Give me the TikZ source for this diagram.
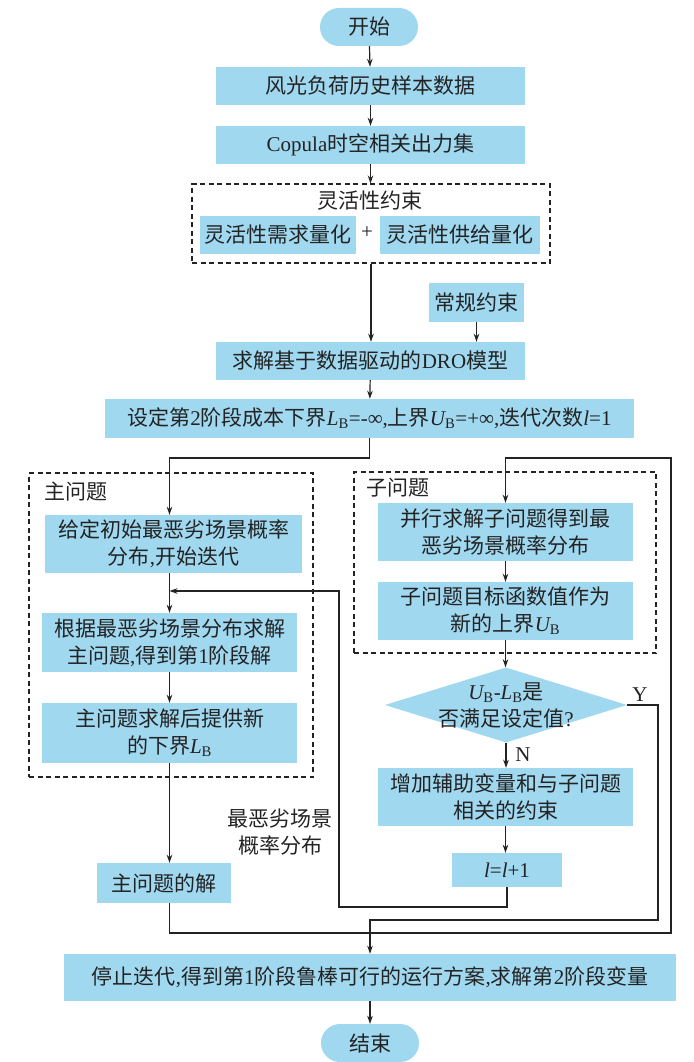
\documentclass[tikz,border=0pt]{standalone}
\usepackage{fontspec}
\setmainfont{Noto Sans CJK SC}
\newfontfamily\lat{Liberation Serif}
\usetikzlibrary{arrows.meta,shapes.geometric}
\definecolor{boxblue}{RGB}{160,216,240}
\definecolor{ink}{RGB}{35,35,35}
\newcommand\ital[1]{{\lat\itshape #1}}
\newcommand\sbB{\textsubscript{\lat B}}
\newcommand\Lt[1]{{\lat #1}}
\begin{document}
\begin{tikzpicture}[x=1pt,y=-1pt,
  every node/.style={font=\fontsize{21}{27}\selectfont, text=ink},
  box/.style={fill=boxblue, inner sep=0pt, align=center},
  arr/.style={draw=ink, line width=1.2pt, -{Stealth[length=8pt,width=5.5pt]}},
  ln/.style={draw=ink, line width=1.2pt},
  dbox/.style={draw=ink, line width=1.1pt, dash pattern=on 5pt off 3.5pt, inner sep=0pt},
]
\useasboundingbox[fill=white] (0,0) rectangle (693,1062);

% dashed group frames
\node[dbox, minimum width=358pt, minimum height=79pt] (flex) at (371,223.5) {};
\node[dbox, minimum width=284pt, minimum height=304pt] (mainfr) at (171,625) {};
\node[dbox, minimum width=302pt, minimum height=181pt] (subfr) at (505,562.5) {};

% top column
\node[box, rounded corners=19pt, minimum width=98pt, minimum height=38pt] (start) at (369,27) {开始};
\node[box, minimum width=309pt, minimum height=38pt] (b1) at (370.5,86) {风光负荷历史样本数据};
\node[box, minimum width=309pt, minimum height=38pt] (b2) at (370.5,145) {\Lt{Copula}时空相关出力集};
\node (flextitle) at (370,201) {灵活性约束};
\node[box, minimum width=156pt, minimum height=38pt] (fl) at (278,235) {灵活性需求量化};
\node[box, minimum width=160pt, minimum height=38pt] (fr) at (460,235) {灵活性供给量化};
\node (plus) at (367,233) {\Lt{+}};
\node[box, minimum width=95pt, minimum height=39pt] (reg) at (476.5,302.5) {常规约束};
\node[box, minimum width=309pt, minimum height=38pt] (dro) at (370.5,361) {求解基于数据驱动的\Lt{DRO}模型};
\node[box, minimum width=529pt, minimum height=39pt] (set) at (369.5,418.5)
  {设定第\Lt{2}阶段成本下界\ital{L}\sbB\Lt{=-∞,}上界\ital{U}\sbB\Lt{=+∞,}迭代次数\ital{l}\Lt{=1}};

% master problem
\node[anchor=west] (mainlab) at (41,492) {主问题};
\node[box, minimum width=257pt, minimum height=58pt] (m1) at (173.5,544) {给定初始最恶劣场景概率\\分布\Lt{,}开始迭代};
\node[box, minimum width=255pt, minimum height=59pt] (m2) at (169.5,642.5) {根据最恶劣场景分布求解\\主问题\Lt{,}得到第\Lt{1}阶段解};
\node[box, minimum width=255pt, minimum height=60pt] (m3) at (169.5,733) {主问题求解后提供新\\的下界\ital{L}\sbB};
\node[box, minimum width=134pt, minimum height=40pt] (msol) at (164,883) {主问题的解};
\node[align=center] (wlab) at (280,832) {最恶劣场景\\概率分布};

% sub problem
\node[anchor=west] (sublab) at (363,488) {子问题};
\node[box, minimum width=255pt, minimum height=58pt] (s1) at (505.5,532) {并行求解子问题得到最\\恶劣场景概率分布};
\node[box, minimum width=255pt, minimum height=58pt] (s2) at (505.5,611) {子问题目标函数值作为\\新的上界\ital{U}\sbB};
\node[diamond, fill=boxblue, inner sep=0pt, minimum width=242pt, minimum height=75pt] (dia) at (506,705) {};
\node[align=center] (diat) at (506,705) {\ital{U}\sbB\Lt{-}\ital{L}\sbB 是\\否满足设定值\Lt{?}};
\node (ylab) at (640,695) {\Lt{Y}};
\node (nlab) at (523,755) {\Lt{N}};
\node[box, minimum width=255pt, minimum height=58pt] (add) at (505.5,797) {增加辅助变量和与子问题\\相关的约束};
\node[box, minimum width=110pt, minimum height=34pt] (inc) at (507,870) {\ital{l}\Lt{=}\ital{l}\Lt{+1}};

% final
\node[box, minimum width=612pt, minimum height=47pt] (fin) at (370,977.5)
  {停止迭代\Lt{,}得到第\Lt{1}阶段鲁棒可行的运行方案\Lt{,}求解第\Lt{2}阶段变量};
\node[box, rounded corners=19pt, minimum width=98pt, minimum height=38pt] (end) at (370,1043) {结束};

% helper coordinates
\coordinate (c1) at (369.5,458);
\coordinate (c2) at (671,933);
\coordinate (c3) at (671,458);
\coordinate (c4) at (658,920);
\coordinate (c5) at (339,907);
\coordinate (c6) at (339,591);

% connectors
\draw[arr] (start) -- (b1);
\draw[arr] (b1) -- (b2);
\draw[arr] (b2.south) -- (b2.south |- flex.north);
\draw[arr] (flex.south) -- (flex.south |- dro.north);
\draw[arr] (reg.south) -- (reg.south |- dro.north);
\draw[arr] (dro) -- (set);
\draw[arr] (set.south) -- (set.south |- c1) -| (m2.north |- m1.north);
\draw[arr] (m2.north |- m1.south) -- (m2.north);
\draw[arr] (m2) -- (m3);
\draw[arr] (m3.south) -- (m3.south |- msol.north);
\draw[arr] (m3.south |- msol.south) |- (c2) -- (c3) -| (s1.north);
\draw[arr] (s1) -- (s2);
\draw[arr] (s2.south) -- (s2.south |- dia.north);
\draw[arr] (dia.south) -- (dia.south |- add.north);
\draw[arr] (add.south) -- (add.south |- inc.north);
\draw[arr] (inc.south) |- (c5) -- (c6) -- (m2.north |- c6);
\draw[arr] (dia.east) -| (c4) -| (fin.north);
\draw[arr] (fin) -- (end);
\end{tikzpicture}
\end{document}
